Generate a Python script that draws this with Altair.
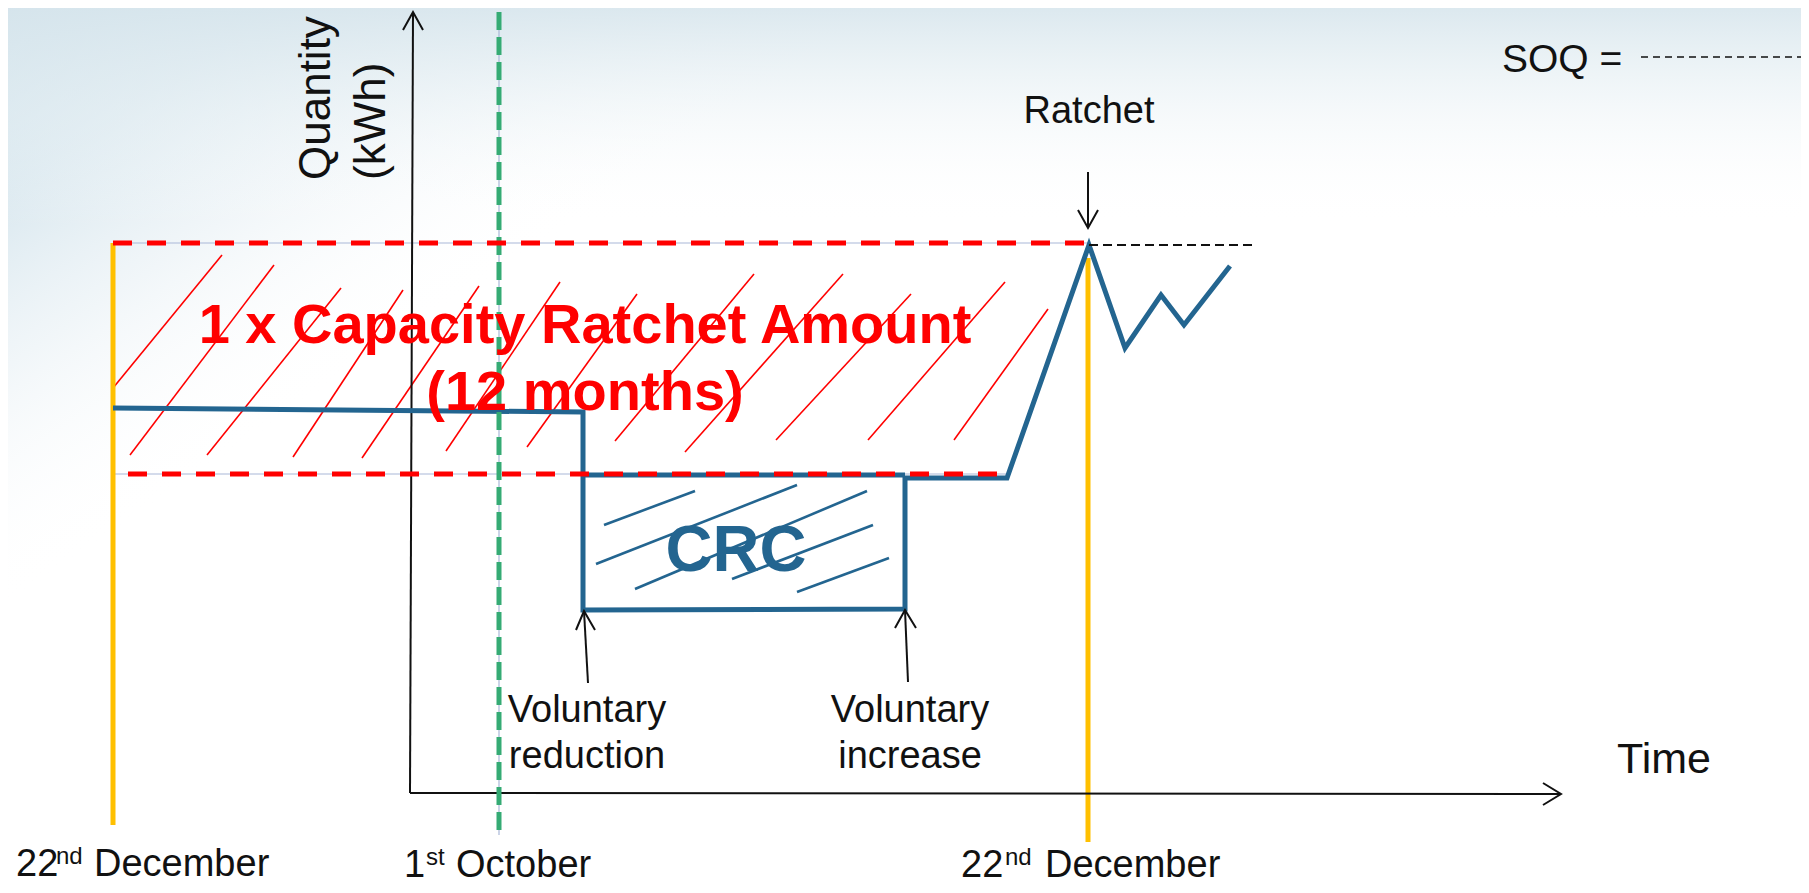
import altair as alt
import pandas as pd

# ---------------- diagram units (time t to the right, level q downward) ----------------
W, H = 1793, 877
T_DOM = [8, 1801]
Q_DOM = [8, 885]

FONT = "Liberation Sans"
BLUE = "#236590"
RED = "#ff0000"
YELLOW = "#ffc000"
GREEN = "#35ab74"
GUIDE = "#a9b8d8"

# nominated quantity profile
profile_t = [113, 583, 583, 905, 905, 1007, 1089, 1125, 1161, 1184, 1230]
profile_q = [408, 412, 610, 609, 478, 478, 245, 348, 295, 325, 266]

# capacity ratchet band (top / bottom levels and extents)
band_top_t = [113, 1089]
band_top_q = [243, 243]
band_bot_t = [113, 1007]
band_bot_q = [474, 474]

# red hatching in the ratchet band
red_t1 = [113, 130, 207, 293, 362, 446, 527, 615, 685, 776, 868, 954]
red_q1 = [388, 455, 455, 457, 458, 451, 447, 441, 452, 440, 440, 440]
red_t2 = [222, 274, 341, 403, 479, 560, 637, 754, 843, 911, 1005, 1048]
red_q2 = [255, 265, 288, 290, 286, 282, 294, 274, 274, 294, 282, 309]

# CRC box hatching
crc_t1 = [604, 596, 635, 732, 797]
crc_q1 = [525, 564, 589, 579, 592]
crc_t2 = [695, 797, 867, 873, 889]
crc_q2 = [491, 485, 491, 525, 558]
crc_top_t = [583, 905]
crc_top_q = [475, 475]

# date markers
yellow_t = [113, 1088]
yellow_q1 = [243, 258]
yellow_q2 = [825, 842]
green_t = [499]
green_q1 = [12]
green_q2 = [835]

# axes
yaxis_t = [413, 410]
yaxis_q = [12, 793]
xaxis_t = [410, 1561]
xaxis_q = [793, 794]
yhead_t = [403, 413, 423]
yhead_q = [30, 12, 30]
xhead_t = [1543, 1561, 1543]
xhead_q = [783, 794, 805]

# SOQ dashed lines
soq_t = [1089, 1256]
soq_q = [245, 245]
soq_key_t = [1641, 1801]
soq_key_q = [57, 57]

# annotation arrows (tail -> tip) and heads
arrow_names = ["Ratchet", "Voluntary reduction", "Voluntary increase"]
arrow_t1 = [1088, 588, 908]
arrow_q1 = [172, 683, 682]
arrow_t2 = [1088, 584, 905]
arrow_q2 = [228, 611, 610]
head_left_t = [1078, 576, 895]
head_left_q = [210, 630, 628]
head_right_t = [1098, 595, 916]
head_right_q = [210, 630, 628]

# texts
red_lines = ["1 x Capacity Ratchet Amount", "(12 months)"]
red_lines_t = [585, 585]
red_lines_q = [343, 410]

label_text = ["Ratchet", "Voluntary", "reduction", "Voluntary", "increase"]
label_t = [1089, 587, 587, 910, 910]
label_q = [123, 722, 768, 722, 768]

date_main = ["22", "December", "1", "October", "22", "December"]
date_main_t = [16, 94, 404, 456, 961, 1045]
date_main_q = [876, 876, 877, 877, 877, 877]
date_sup = ["nd", "st", "nd"]
date_sup_t = [56, 426, 1005]
date_sup_q = [864, 865, 865]

ylab = ["Quantity", "(kWh)"]
ylab_t = [330, 385]
ylab_q = [180, 180]


# ---------------- helpers ----------------
def X(f):
    return alt.X(f, type="quantitative", scale=alt.Scale(domain=T_DOM, nice=False, zero=False), axis=None)


def Y(f):
    return alt.Y(f, type="quantitative", scale=alt.Scale(domain=Q_DOM, nice=False, zero=False, reverse=True), axis=None)


def rules(t1, q1, t2, q2, **mk):
    df = pd.DataFrame({"t": t1, "q": q1, "t2": t2, "q2": q2})
    return alt.Chart(df).mark_rule(**mk).encode(x=X("t"), y=Y("q"), x2="t2:Q", y2="q2:Q")


def polyline(groups, **mk):
    rows = []
    for g, (ts, qs) in enumerate(groups):
        for i, (t, q) in enumerate(zip(ts, qs)):
            rows.append({"g": g, "i": i, "t": t, "q": q})
    df = pd.DataFrame(rows)
    return alt.Chart(df).mark_line(**mk).encode(
        x=X("t"), y=Y("q"), detail="g:N", order="i:Q"
    )


def texts(txt, ts, qs, **mk):
    df = pd.DataFrame({"label": txt, "t": ts, "q": qs})
    return alt.Chart(df).mark_text(font=FONT, **mk).encode(x=X("t"), y=Y("q"), text="label:N")


one = pd.DataFrame({"a": [0]})
bg_corner = alt.Chart(one).mark_rect(
    fill={
        "gradient": "linear",
        "x1": 0.0, "y1": 0.0, "x2": 0.4, "y2": 0.2,
        "stops": [
            {"offset": 0.0, "color": "rgba(188,214,227,0.95)"},
            {"offset": 0.3, "color": "rgba(208,226,235,0.8)"},
            {"offset": 0.6, "color": "rgba(230,239,244,0.55)"},
            {"offset": 1.0, "color": "rgba(255,255,255,0)"},
        ],
    }
).encode(x=alt.value(0), x2=alt.value(W), y=alt.value(0), y2=alt.value(600))

bg_top = alt.Chart(one).mark_rect(
    fill={
        "gradient": "linear",
        "x1": 0, "y1": 0, "x2": 0, "y2": 1,
        "stops": [
            {"offset": 0.0, "color": "rgba(216,230,237,0.9)"},
            {"offset": 0.12, "color": "rgba(236,243,246,0.5)"},
            {"offset": 0.25, "color": "rgba(255,255,255,0)"},
        ],
    }
).encode(x=alt.value(0), x2=alt.value(W), y=alt.value(0), y2=alt.value(H))

guides = rules(
    [band_top_t[0], band_bot_t[0], green_t[0]],
    [band_top_q[0], band_bot_q[0], green_q1[0]],
    [band_top_t[1], band_bot_t[1], green_t[0]],
    [band_top_q[1], band_bot_q[1], green_q2[0]],
    color=GUIDE, strokeWidth=1.2,
)

red_hatch = rules(red_t1, red_q1, red_t2, red_q2, color=RED, strokeWidth=1.6)
crc_hatch = rules(crc_t1, crc_q1, crc_t2, crc_q2, color=BLUE, strokeWidth=2.6)

yellow = rules(yellow_t, yellow_q1, yellow_t, yellow_q2, color=YELLOW, strokeWidth=5)

axes = polyline([(yaxis_t, yaxis_q), (xaxis_t, xaxis_q), (yhead_t, yhead_q), (xhead_t, xhead_q)],
                color="#111111", strokeWidth=2)

profile = polyline([(profile_t, profile_q)], color=BLUE, strokeWidth=5, strokeJoin="miter")
crc_top = rules([crc_top_t[0]], [crc_top_q[0]], [crc_top_t[1]], [crc_top_q[1]], color=BLUE, strokeWidth=5)

green = rules(green_t, green_q1, green_t, green_q2, color=GREEN, strokeWidth=5, strokeDash=[18, 7])

red_top = rules([band_top_t[0]], [band_top_q[0]], [band_top_t[1]], [band_top_q[1]],
                color=RED, strokeWidth=5, strokeDash=[19, 15])
red_bot = rules([band_bot_t[0]], [band_bot_q[0]], [band_bot_t[1]], [band_bot_q[1]],
                color=RED, strokeWidth=5, strokeDash=[19, 15], strokeDashOffset=19)

soq_line = rules([soq_t[0]], [soq_q[0]], [soq_t[1]], [soq_q[1]],
                 color="#111111", strokeWidth=2, strokeDash=[9, 5])
soq_key = rules([soq_key_t[0]], [soq_key_q[0]], [soq_key_t[1]], [soq_key_q[1]],
                color="#111111", strokeWidth=1.7, strokeDash=[7, 5])

arrow_shafts = rules(arrow_t1, arrow_q1, arrow_t2, arrow_q2, color="#111111", strokeWidth=2)
arrow_heads = polyline(
    [([head_left_t[k], arrow_t2[k], head_right_t[k]], [head_left_q[k], arrow_q2[k], head_right_q[k]])
     for k in range(len(arrow_names))],
    color="#111111", strokeWidth=2,
)

red_text = texts(red_lines, red_lines_t, red_lines_q, fontSize=56, fontWeight="bold",
                 color=RED, align="center", baseline="alphabetic")
crc_text = texts(["CRC"], [736], [571], fontSize=65, fontWeight="bold",
                 color=BLUE, align="center", baseline="alphabetic")
label_texts = texts(label_text, label_t, label_q, fontSize=38, color="#111111",
                    align="center", baseline="alphabetic")
time_text = texts(["Time"], [1617], [773], fontSize=43, color="#111111", align="left", baseline="alphabetic")
soq_text = texts(["SOQ ="], [1502], [72], fontSize=39, color="#111111", align="left", baseline="alphabetic")
date_texts = texts(date_main, date_main_t, date_main_q, fontSize=38, color="#111111",
                   align="left", baseline="alphabetic")
sup_texts = texts(date_sup, date_sup_t, date_sup_q, fontSize=24, color="#111111",
                  align="left", baseline="alphabetic")
ylab_texts = texts(ylab, ylab_t, ylab_q, fontSize=44, color="#111111", angle=270,
                   align="left", baseline="alphabetic")

chart = alt.layer(
    bg_corner, bg_top, guides, red_hatch, crc_hatch, yellow, axes, profile, crc_top,
    green, red_top, red_bot, soq_line, soq_key, arrow_shafts, arrow_heads,
    red_text, crc_text, label_texts, time_text, soq_text, date_texts, sup_texts, ylab_texts,
).properties(
    width=W, height=H, padding=0, autosize="none", background="white"
).configure_view(stroke=None)

chart.save("out.html", embed_options={"renderer": "svg", "actions": False})
